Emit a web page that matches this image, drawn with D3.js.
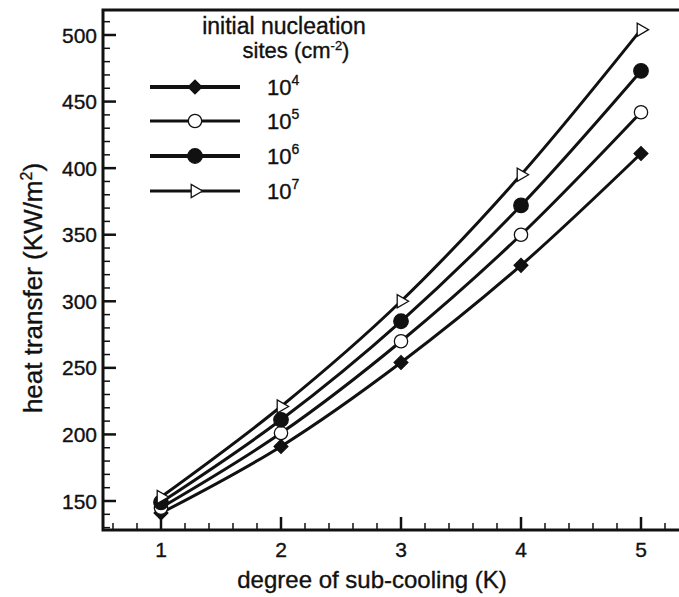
<!DOCTYPE html>
<html>
<head>
<meta charset="utf-8">
<script src="https://cdn.jsdelivr.net/npm/d3@7"></script>
<style>
  html, body { margin: 0; padding: 0; background: #fff; }
  svg { display: block; font-family: "Liberation Sans", Arial, sans-serif; }
  text { fill: #111; stroke: #111; stroke-width: 0.35px; }
</style>
</head>
<body>
<div id="chart"></div>
<script>
// values
const subCooling = [1, 2, 3, 4, 5];
const sites4 = [141, 191, 254, 327, 411];
const sites5 = [145, 201, 270, 350, 442];
const sites6 = [149, 211, 285, 372, 473];
const sites7 = [153, 221, 300, 395, 504];
const seriesNames = ["4", "5", "6", "7"];
const yTicks = [150, 200, 250, 300, 350, 400, 450, 500];
const xTicks = [1, 2, 3, 4, 5];

const width = 679, height = 597;
const svg = d3.select("#chart").append("svg")
    .attr("width", width)
    .attr("height", height);

const x = d3.scaleLinear().domain([1, 5]).range([161, 641]);
const y = d3.scaleLinear().domain([150, 500]).range([501, 35]);

const x0 = x.invert(103), x1 = x.invert(702);
const y0 = y.invert(530), y1 = y.invert(10);

const series = [
    { name: seriesNames[0], values: sites4, symbol: "diamond", fill: "#111", legendWidth: 4 },
    { name: seriesNames[1], values: sites5, symbol: "circle", fill: "#fff", legendWidth: 3 },
    { name: seriesNames[2], values: sites6, symbol: "bigcircle", fill: "#111", legendWidth: 4 },
    { name: seriesNames[3], values: sites7, symbol: "triangle", fill: "#fff", legendWidth: 3 }
];

function symbolPath(kind) {
    if (kind === "diamond") return d3.symbol(d3.symbolSquare, 95)();
    if (kind === "circle") return d3.symbol(d3.symbolCircle, 140)();
    if (kind === "bigcircle") return d3.symbol(d3.symbolCircle, 165)();
    return d3.symbol(d3.symbolTriangle, 75)();
}

function drawMarker(g, kind, fill, px, py) {
    let rot = "";
    if (kind === "triangle") rot = " rotate(90)";
    if (kind === "diamond") rot = " rotate(45)";
    g.append("path")
        .attr("d", symbolPath(kind))
        .attr("transform", `translate(${px},${py})` + rot)
        .attr("fill", fill)
        .attr("stroke", "#111")
        .attr("stroke-width", 1.3);
}

// frame
svg.append("rect")
    .attr("x", x(x0)).attr("y", y(y1))
    .attr("width", x(x1) - x(x0)).attr("height", y(y0) - y(y1))
    .attr("fill", "none").attr("stroke", "#111").attr("stroke-width", 3);

// x ticks (inward)
const xMinor = d3.range(0.6, 5.5, 0.2).filter(v => Math.abs(v - Math.round(v)) > 0.01);
svg.append("g").selectAll("line.minor").data(xMinor).enter().append("line")
    .attr("x1", d => x(d)).attr("x2", d => x(d))
    .attr("y1", y(y0)).attr("y2", y(y0) - 7)
    .attr("stroke", "#111").attr("stroke-width", 1.5);
svg.append("g").selectAll("line.major").data(xTicks).enter().append("line")
    .attr("x1", d => x(d)).attr("x2", d => x(d))
    .attr("y1", y(y0)).attr("y2", y(y0) - 13)
    .attr("stroke", "#111").attr("stroke-width", 2.5);
svg.append("g").selectAll("text").data(xTicks).enter().append("text")
    .attr("x", d => x(d)).attr("y", 557)
    .attr("text-anchor", "middle")
    .attr("font-size", 21)
    .text(d => d);

// y ticks (inward)
const yMinor = d3.range(130, 520, 10).filter(v => v % 50 !== 0);
svg.append("g").selectAll("line.minor").data(yMinor).enter().append("line")
    .attr("x1", x(x0)).attr("x2", x(x0) + 7)
    .attr("y1", d => y(d)).attr("y2", d => y(d))
    .attr("stroke", "#111").attr("stroke-width", 1.5);
svg.append("g").selectAll("line.major").data(yTicks).enter().append("line")
    .attr("x1", x(x0)).attr("x2", x(x0) + 13)
    .attr("y1", d => y(d)).attr("y2", d => y(d))
    .attr("stroke", "#111").attr("stroke-width", 2.5);
svg.append("g").selectAll("text").data(yTicks).enter().append("text")
    .attr("x", 97).attr("y", d => y(d) + 7.5)
    .attr("text-anchor", "end")
    .attr("font-size", 21)
    .text(d => d);

// axis titles
svg.append("text")
    .attr("x", 372).attr("y", 588)
    .attr("text-anchor", "middle")
    .attr("font-size", 24)
    .text("degree of sub-cooling (K)");

const yTitle = svg.append("text")
    .attr("transform", `translate(42,288) rotate(-90)`)
    .attr("text-anchor", "middle")
    .attr("font-size", 26);
yTitle.append("tspan").text("heat transfer (KW/m");
yTitle.append("tspan").attr("font-size", 16).attr("dy", -10).text("2");
yTitle.append("tspan").attr("dy", 10).text(")");

// lines
const line = d3.line()
    .x((d, i) => x(subCooling[i]))
    .y(d => y(d))
    .curve(d3.curveMonotoneX);

const plot = svg.append("g");
series.forEach(s => {
    plot.append("path")
        .attr("d", line(s.values))
        .attr("fill", "none")
        .attr("stroke", "#111")
        .attr("stroke-width", 3);
});
series.forEach(s => {
    s.values.forEach((v, i) => drawMarker(plot, s.symbol, s.fill, x(subCooling[i]), y(v)));
});

// legend
const legend = svg.append("g");
legend.append("text")
    .attr("x", 284).attr("y", 34)
    .attr("text-anchor", "middle")
    .attr("font-size", 23)
    .text("initial nucleation");
const sub = legend.append("text")
    .attr("x", 296).attr("y", 58)
    .attr("text-anchor", "middle")
    .attr("font-size", 22);
sub.append("tspan").text("sites (cm");
sub.append("tspan").attr("font-size", 13).attr("dy", -8).text("-2");
sub.append("tspan").attr("dy", 8).text(")");

const rowY = [87, 121, 156, 191];
series.forEach((s, i) => {
    legend.append("line")
        .attr("x1", 150).attr("x2", 240)
        .attr("y1", rowY[i]).attr("y2", rowY[i])
        .attr("stroke", "#111").attr("stroke-width", s.legendWidth);
    drawMarker(legend, s.symbol, s.fill, 195, rowY[i]);
    const t = legend.append("text")
        .attr("x", 267).attr("y", rowY[i] + 8)
        .attr("font-size", 22);
    t.append("tspan").text("10");
    t.append("tspan").attr("font-size", 14).attr("dy", -10).text(s.name);
});
</script>
</body>
</html>
